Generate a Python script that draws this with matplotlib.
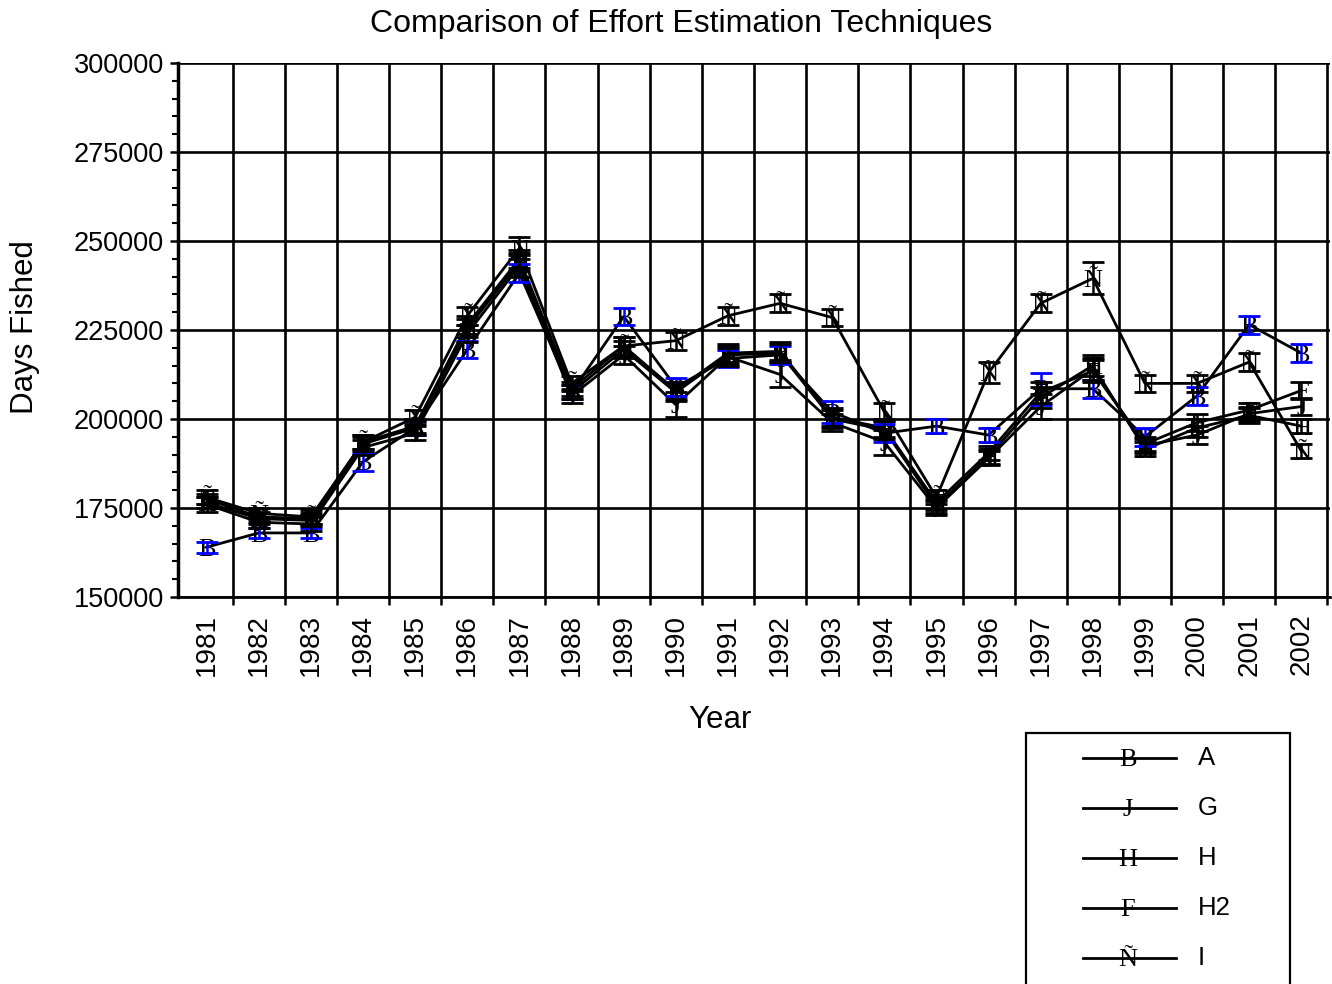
import matplotlib
matplotlib.use("Agg")
import matplotlib.pyplot as plt
from matplotlib.lines import Line2D
from matplotlib.patches import Rectangle
from matplotlib.ticker import MultipleLocator, FixedLocator

matplotlib.rcParams["font.family"] = "Liberation Sans"

years = list(range(1981, 2003))

# Days fished by estimation technique
est_a = [164000, 168000, 168000, 188000, 197500, 219500, 241000, 207500, 228800, 209000, 217000,
         218000, 202000, 196000, 198000, 195500, 208500, 208500, 195000, 206500, 226500, 218500]
est_g = [176000, 171000, 170500, 192000, 196000, 224000, 243000, 206500, 218000, 204000, 217500,
         212500, 199000, 193500, 175000, 189000, 203500, 214000, 192500, 195500, 201500, 203500]
est_h = [176500, 172000, 171500, 193000, 197500, 225500, 244000, 207500, 219500, 207500, 218000,
         218500, 200000, 197000, 175500, 189500, 206000, 215000, 191500, 197500, 201000, 198000]
est_h2 = [177500, 172500, 172000, 193500, 198000, 226500, 245000, 208500, 220500, 208000, 218500,
          219000, 200500, 197500, 176500, 190500, 207500, 213500, 193000, 199000, 202500, 208000]
est_i = [178000, 173500, 172500, 193500, 200500, 229000, 248000, 210000, 220500, 222000, 229000,
         232500, 228500, 202000, 178000, 213000, 232500, 239500, 210000, 210000, 216000, 191000]

# Standard errors
err_a = [1500, 1500, 1500, 2500, 2000, 2500, 2500, 2000, 2500, 2500, 2500,
         2500, 3000, 2500, 2000, 2000, 4500, 2500, 2500, 2500, 2500, 2500]
err_g = [2000, 1500, 2000, 2000, 2000, 2500, 3000, 2000, 2500, 3500, 2500,
         3500, 2500, 3500, 2000, 2000, 3500, 3000, 2000, 2500, 2000, 2500]
err_h = [1500, 1500, 1500, 2000, 2000, 2500, 2500, 2000, 2500, 2500, 2500,
         2500, 2500, 2500, 2000, 2000, 3000, 3000, 2000, 2500, 2000, 2000]
err_h2 = [1500, 1500, 1500, 2000, 2000, 2500, 2500, 2000, 2500, 2500, 2500,
          2500, 2500, 2500, 2000, 2000, 3000, 3000, 2000, 2500, 2000, 2500]
err_i = [2000, 1500, 2000, 2000, 2000, 2500, 3000, 2000, 2500, 2500, 2500,
         2500, 2500, 2500, 2000, 3000, 2500, 4500, 2500, 2500, 2500, 2000]

labels = ["A", "G", "H", "H2", "I"]
glyphs = ["B", "J", "H", "F", "Ñ"]
values = [est_a, est_g, est_h, est_h2, est_i]
errors = [err_a, err_g, err_h, err_h2, err_i]
err_colors = ["#0000ff", "black", "black", "black", "black"]

W, H = 1332, 984
fig = plt.figure(figsize=(W / 100, H / 100), dpi=100)
ax = fig.add_axes([178 / W, 1 - 597 / H, (1330 - 178) / W, (597 - 63) / H])

gsize = 19
for lab, g, v, e, ec in zip(labels, glyphs, values, errors, err_colors):
    ax.plot(years, v, color="black", lw=2.0, zorder=3)
    for x, y in zip(years, v):
        ax.annotate(g, (x, y), xytext=(0, -0.33 * gsize), textcoords="offset points",
                    ha="center", va="baseline", family="Liberation Serif",
                    fontsize=gsize, zorder=4)
    ax.errorbar(years, v, yerr=e, fmt="none", ecolor=ec, elinewidth=1.8,
                capsize=8, capthick=2.0, zorder=5)

ax.set_xlim(1980.45, 2002.55)
ax.set_ylim(150000, 300000)

ax.xaxis.set_major_locator(FixedLocator(years))
ax.set_xticklabels([str(y) for y in years], rotation=90, fontsize=20)
ax.xaxis.set_minor_locator(FixedLocator([y + 0.5 for y in range(1981, 2003)]))
ax.tick_params(axis="x", which="major", length=0, pad=12)
ax.tick_params(axis="x", which="minor", length=6, width=1.8, direction="out")

ax.yaxis.set_major_locator(MultipleLocator(25000))
ax.yaxis.set_minor_locator(MultipleLocator(5000))
ax.tick_params(axis="y", which="major", length=6, width=1.8, labelsize=19.5, pad=4)
ax.tick_params(axis="y", which="minor", length=4, width=1.5)

ax.grid(True, axis="y", which="major", color="black", lw=1.9)
ax.grid(True, axis="x", which="minor", color="black", lw=1.9)
ax.set_axisbelow(True)

for s in ["top", "right"]:
    ax.spines[s].set_visible(False)
ax.spines["left"].set_linewidth(2.5)
ax.spines["bottom"].set_linewidth(2.0)

fig.text(681 / W, 1 - 24 / H, "Comparison of Effort Estimation Techniques",
         ha="center", va="center", fontsize=23)
fig.text(720 / W, 1 - 720 / H, "Year", ha="center", va="center", fontsize=22.5)
fig.text(25 / W, 1 - 327 / H, "Days Fished", ha="center", va="center",
         rotation=90, fontsize=22.5)

# legend box, hand placed in pixel coordinates
fig.add_artist(Rectangle((1026 / W, -0.05), (1290 - 1026) / W, 0.05 + (984 - 733) / H,
                         transform=fig.transFigure, fill=False, ec="black", lw=1.6))
for k, (lab, g) in enumerate(zip(labels, glyphs)):
    yy = 1 - (758 + 50 * k) / H
    fig.add_artist(Line2D([1083 / W, 1176 / W], [yy, yy], transform=fig.transFigure,
                          color="black", lw=2.0))
    fig.text(1128 / W, yy, g, ha="center", va="center_baseline",
             family="Liberation Serif", fontsize=gsize)
    fig.text(1198 / W, yy, lab, ha="left", va="center", fontsize=18.5)

fig.savefig("out.png", dpi=100)
